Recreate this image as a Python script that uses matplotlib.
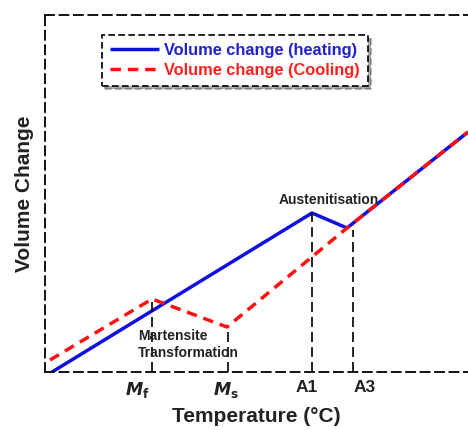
import matplotlib.pyplot as plt

plt.rcParams['font.family'] = ['Liberation Sans', 'DejaVu Sans']
plt.rcParams['font.weight'] = 'bold'

# ── Data (arbitrary units) ───────────────────────────────
heat_x = [7, 267, 302, 423]
heat_y = [0, 159, 144, 240]

cool_x = [5, 107, 182, 302, 423]
cool_y = [12, 73, 45, 144, 240]

# vertical guide lines: x position and top of line
guide_x = [107, 183, 267, 308]
guide_top = [73, 45, 159, 142]

tick_pos = [92, 181, 262, 320]
tick_labels = [r'$\mathbfit{M}_\mathbf{f}$', r'$\mathbfit{M}_\mathbf{s}$', 'A1', 'A3']

fig = plt.figure(figsize=(4.68, 4.30), dpi=100)
ax = fig.add_axes([45 / 468, 58 / 430, 423 / 468, 357 / 430])

ax.plot(heat_x, heat_y, color='#1010e0', lw=2.5, solid_capstyle='butt',
        label='Volume change (heating)')
ax.plot(cool_x, cool_y, color='#ff1010', lw=2.5, ls=(0, (3, 2)),
        label='Volume change (Cooling)')

for gx, gt in zip(guide_x, guide_top):
    ax.plot([gx, gx], [0, gt], color='black', lw=1.2, ls=(0, (6, 3)))

ax.set_xlim(0, 423)
ax.set_ylim(0, 357)

for side in ['left', 'top', 'bottom']:
    ax.spines[side].set_linestyle((0, (5, 3)))
    ax.spines[side].set_linewidth(1.3)
ax.spines['right'].set_visible(False)

ax.set_xticks(tick_pos)
ax.set_xticklabels(tick_labels, fontsize=12.5, fontweight='bold', color='#222222')
ax.tick_params(axis='x', length=0, pad=6)
ax.set_yticks([])

ax.set_xlabel('Temperature (°C)', fontsize=15, fontweight='bold', labelpad=5,
              color='#222222')
ax.set_ylabel('Volume Change', fontsize=15, fontweight='bold', labelpad=8,
              color='#222222')

ax.text(284, 165, 'Austenitisation', fontsize=10, fontweight='bold',
        ha='center', va='bottom', color='#222222')
ax.text(93, 36, 'Martensite', fontsize=10, fontweight='bold',
        ha='left', va='center', color='#222222')
ax.text(93, 19, 'Transformation', fontsize=10, fontweight='bold',
        ha='left', va='center', color='#222222')

leg = ax.legend(loc='upper left', bbox_to_anchor=(57 / 423, 1 - 20 / 357),
                fancybox=False, shadow=True, edgecolor='black', fontsize=11.8,
                handlelength=3.0, handletextpad=0.3, borderpad=0.5,
                labelspacing=0.3, borderaxespad=0)
leg.get_frame().set_linestyle((0, (4, 2)))
leg.get_frame().set_linewidth(1.2)
for txt, c in zip(leg.get_texts(), ['#2020d0', '#ff2020']):
    txt.set_color(c)
    txt.set_fontweight('bold')

fig.savefig('out.png', dpi=100)
